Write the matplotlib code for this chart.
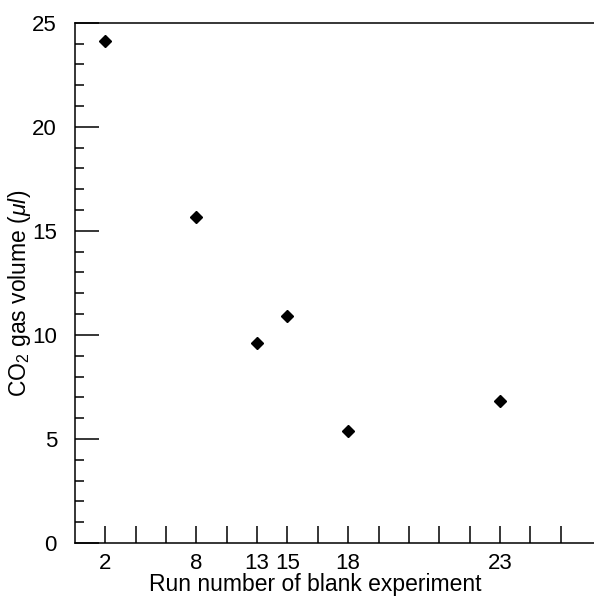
import matplotlib
matplotlib.use("Agg")
import matplotlib.pyplot as plt

# run numbers of the blank experiments and the axis slot each one sits on
runs = [2, 8, 13, 15, 18, 23]
run_slots = [1, 4, 6, 7, 9, 14]
co2_volume = [24.1, 15.65, 9.63, 10.89, 5.4, 6.83]

n_slots = 16

plt.rcParams["font.family"] = ["Liberation Sans", "DejaVu Sans"]
plt.rcParams["mathtext.fontset"] = "custom"
plt.rcParams["mathtext.rm"] = "Liberation Sans"
plt.rcParams["mathtext.it"] = "Liberation Sans:italic"

fig = plt.figure(figsize=(5.94, 5.96), dpi=100)
ax = fig.add_axes([0.1263, 0.0889, 0.8737, 0.873])

ax.plot(run_slots, co2_volume, linestyle="none", marker="D", markersize=6.5, color="black")

ax.set_xlim(0, 17.1)
ax.set_ylim(0, 25)

slot_labels = [""] * n_slots
for r, s in zip(runs, run_slots):
    slot_labels[s - 1] = str(r)
ax.set_xticks(range(1, n_slots + 1))
ax.set_xticklabels(slot_labels)

ax.set_yticks(range(0, 26, 5))
ax.set_yticks(range(0, 26), minor=True)

ax.tick_params(axis="x", direction="in", length=12, width=1.1, pad=7, labelsize=16)
ax.tick_params(axis="y", which="major", direction="in", length=17, width=1.1, pad=13, labelsize=16)
ax.tick_params(axis="y", which="minor", direction="in", length=6.5, width=1.1)

ax.spines["right"].set_visible(False)
for s in ["left", "bottom", "top"]:
    ax.spines[s].set_linewidth(1.1)

ax.set_xlabel("Run number of blank experiment", fontsize=16.5)
ax.xaxis.set_label_coords(0.462, -0.058)
ax.set_ylabel(r"CO$_2$ gas volume ($\mu l$)", fontsize=16.5)
ax.yaxis.set_label_coords(-0.081, 0.48)

fig.savefig("out.png", dpi=100)
